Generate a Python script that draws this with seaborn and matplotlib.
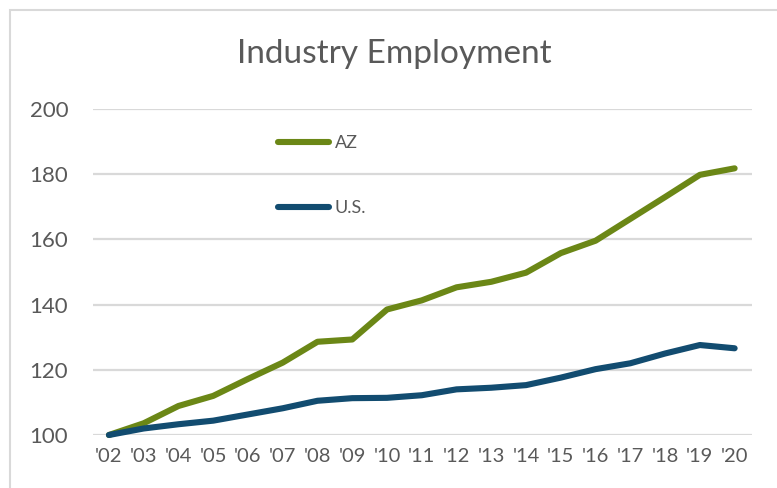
import matplotlib
matplotlib.use("Agg")
import matplotlib.pyplot as plt
import seaborn as sns
import pandas as pd
from matplotlib.patches import Rectangle

years = ["'02", "'03", "'04", "'05", "'06", "'07", "'08", "'09", "'10", "'11",
         "'12", "'13", "'14", "'15", "'16", "'17", "'18", "'19", "'20"]
az = [100, 103.6, 108.9, 112.0, 117.2, 122.2, 128.6, 129.3, 138.5, 141.3,
      145.3, 147.0, 149.8, 155.8, 159.6, 166.3, 173.0, 179.8, 181.8]
us = [100, 102.0, 103.3, 104.4, 106.3, 108.2, 110.5, 111.3, 111.4, 112.2,
      114.0, 114.5, 115.3, 117.6, 120.2, 122.0, 125.0, 127.6, 126.6]
series_names = ["AZ", "U.S."]
colors = ["#6B8716", "#124C70"]

sns.set_theme(style="white")
plt.rcParams["font.family"] = ["Lato", "DejaVu Sans"]

W, H = 777, 488
df = pd.DataFrame({"value": az + us,
                   "series": [series_names[0]] * len(years) + [series_names[1]] * len(years)})
df["x"] = list(range(len(years))) * 2

fig = plt.figure(figsize=(W / 100, H / 100), dpi=100)
ax_l, ax_r, ax_t, ax_b = 92.6, 752, 109, 435
ax = fig.add_axes([ax_l / W, (H - ax_b) / H, (ax_r - ax_l) / W, (ax_b - ax_t) / H])

sns.lineplot(data=df, x="x", y="value", hue="series", palette=colors,
             linewidth=4.4, ax=ax, legend=True, sort=False)
for ln in ax.lines:
    ln.set_solid_capstyle("round")
    ln.set_solid_joinstyle("round")
    ln.set_clip_on(False)

ax.set_xlim(-0.47, 18.5)
ax.set_ylim(100, 200)
ax.set_yticks([100, 120, 140, 160, 180, 200])
ax.set_xticks(range(len(years)))
ax.set_xticklabels(years)
ax.yaxis.grid(True, color="#D9D9D9", linewidth=1.6)
ax.set_axisbelow(True)
for s in ax.spines.values():
    s.set_visible(False)
ax.tick_params(axis="both", length=0, colors="#595959")
ax.tick_params(axis="x", pad=9, labelsize=14.5)
ax.tick_params(axis="y", pad=17.5, labelsize=16)
ax.set_xlabel("")
ax.set_ylabel("")

# legend placed inside the plot, handles centred at the given pixel spots
leg_fs = 13
anchor = [0.27, 0.954]
spacing = 2.5


def make_legend():
    lg = ax.legend(loc="upper left", bbox_to_anchor=tuple(anchor), frameon=False,
                   handlelength=2.83, handletextpad=0.3, labelspacing=spacing,
                   fontsize=leg_fs, borderaxespad=0)
    for t in lg.get_texts():
        t.set_color("#595959")
    for h in lg.get_lines():
        h.set_linewidth(4.4)
        h.set_solid_capstyle("round")
    return lg


leg = make_legend()
renderer = fig.canvas.get_renderer()
target = [(278 + 329) / 2, H - 142, H - 207]
for _ in range(3):
    fig.canvas.draw()
    b0 = leg.get_lines()[0].get_window_extent(renderer)
    b1 = leg.get_lines()[1].get_window_extent(renderer)
    c0x, c0y = (b0.x0 + b0.x1) / 2, (b0.y0 + b0.y1) / 2
    c1y = (b1.y0 + b1.y1) / 2
    gap = c0y - c1y
    spacing += ((target[1] - target[2]) - gap) / (leg_fs * 100 / 72)
    anchor[0] += (target[0] - c0x) / (ax_r - ax_l)
    anchor[1] += (target[1] - c0y) / (ax_b - ax_t)
    leg.remove()
    leg = make_legend()

fig.text(394 / W, 1 - 63 / H, "Industry Employment", ha="center", va="baseline",
         fontsize=24, color="#595959")

# light chart-area frame
fig.patches.append(Rectangle((10 / W, -0.1), 1.2, 1 - 10 / H + 0.1,
                             transform=fig.transFigure, fill=False,
                             edgecolor="#D9D9D9", linewidth=1.5))

fig.savefig("out.png", dpi=100)
